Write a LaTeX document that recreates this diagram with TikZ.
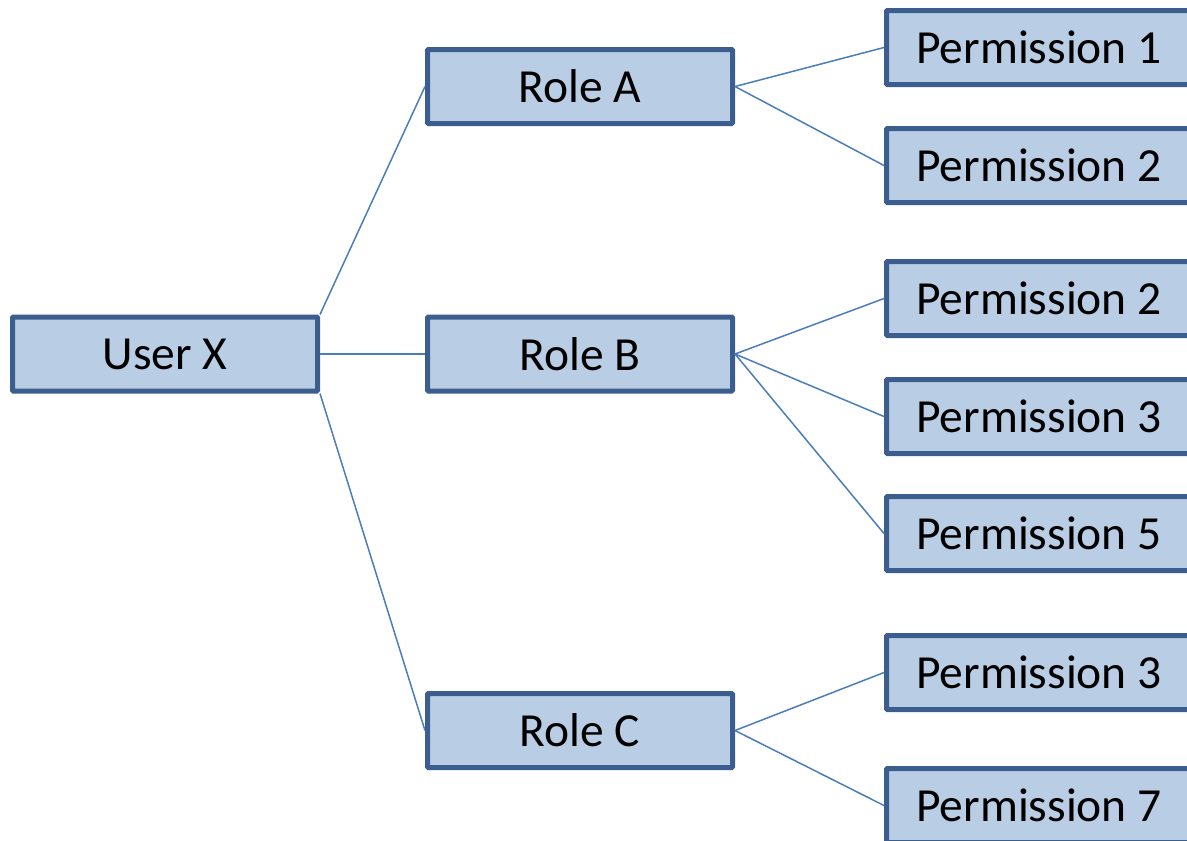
\documentclass[tikz,border=0pt]{standalone}
\usepackage{fontspec}
\setmainfont{Carlito}
\definecolor{boxfill}{RGB}{185,205,229}
\definecolor{boxline}{RGB}{59,94,143}
\definecolor{linkline}{RGB}{74,126,187}
\tikzset{
  rolebox/.style={draw=boxline, fill=boxfill, line width=5pt, rounded corners=1pt,
    minimum width=305pt, minimum height=74pt, inner sep=0pt,
    font=\fontsize{47.5}{56}\selectfont},
  link/.style={draw=linkline, line width=1.5pt}
}
\begin{document}
\begin{tikzpicture}[x=1pt,y=-1pt]
    \useasboundingbox (0,0) rectangle (1187,841);
    \clip (0,0) rectangle (1187,841);
    \node[rolebox] (ux) at (165,354) {User X}; % user
    \node[rolebox] (ra) at (580,86.5) {Role A}; % roles
    \node[rolebox] (rb) at (580,354) {Role B};
    \node[rolebox] (rc) at (580,730.5) {Role C};
    \node[rolebox] (pa1) at (1039,47.5) {Permission 1}; % permissions of role A
    \node[rolebox] (pa2) at (1039,165.5) {Permission 2};
    \node[rolebox] (pb2) at (1039,298.5) {Permission 2}; % permissions of role B
    \node[rolebox] (pb3) at (1039,416.5) {Permission 3};
    \node[rolebox] (pb5) at (1039,533.5) {Permission 5};
    \node[rolebox] (pc3) at (1039,672.5) {Permission 3}; % permissions of role C
    \node[rolebox] (pc7) at (1039,805.5) {Permission 7};
    \draw[link] (ux.north east) -- (ra.west); % user to roles
    \draw[link] (ux.east) -- (rb.west);
    \draw[link] (ux.south east) -- (rc.west);
    \draw[link] (ra.east) -- (pa1.west); % roles to permissions
    \draw[link] (ra.east) -- (pa2.west);
    \draw[link] (rb.east) -- (pb2.west);
    \draw[link] (rb.east) -- (pb3.west);
    \draw[link] (rb.east) -- (pb5.west);
    \draw[link] (rc.east) -- (pc3.west);
    \draw[link] (rc.east) -- (pc7.west);
  \end{tikzpicture}
\end{document}
